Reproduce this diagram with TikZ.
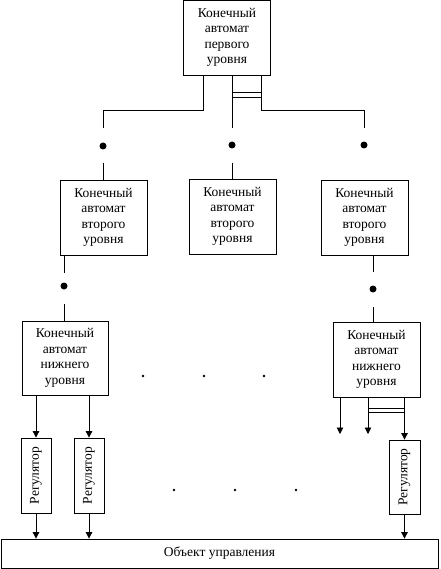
\documentclass[tikz,border=0pt]{standalone}
\usepackage{fontspec}
\setmainfont{Liberation Serif}
\usetikzlibrary{arrows.meta}

\tikzset{
  block/.style={draw, line width=0.8pt, align=center, inner sep=0pt,
    font=\fontsize{13.5}{15.5}\selectfont},
  automat/.style={block, minimum width=87pt, minimum height=75pt},
  regbox/.style={block, minimum width=30pt, minimum height=75pt},
  bigdot/.style={circle, fill, inner sep=0pt, minimum size=7pt},
  smalldot/.style={circle, fill, inner sep=0pt, minimum size=2.6pt},
  link/.style={line width=0.8pt}
}

\begin{document}
\begin{tikzpicture}[x=1pt, y=-1pt, >={Triangle[length=6.5pt,width=6.5pt]}]
  \useasboundingbox (0,0) rectangle (440,569);

  % first level
  \node[automat] (top) at (227,37.5) {Конечный\\автомат\\первого\\уровня};

  % second level
  \node[automat] (sec1) at (103.5,217.5) {Конечный\\автомат\\второго\\уровня};
  \node[automat] (sec2) at (232.5,216.5) {Конечный\\автомат\\второго\\уровня};
  \node[automat] (sec3) at (364.5,217.5) {Конечный\\автомат\\второго\\уровня};

  % lower level
  \node[automat, minimum width=86pt, minimum height=74pt] (low1) at (65,358) {Конечный\\автомат\\нижнего\\уровня};
  \node[automat] (low2) at (376.5,359.5) {Конечный\\автомат\\нижнего\\уровня};

  % regulators
  \node[regbox] (reg1) at (36,475.5) {\rotatebox{90}{Регулятор}};
  \node[regbox] (reg2) at (89,475.5) {\rotatebox{90}{Регулятор}};
  \node[regbox, minimum width=31pt, minimum height=74pt] (reg3) at (404.5,477) {\rotatebox{90}{Регулятор}};

  % controlled object
  \node[block, minimum width=437pt, minimum height=29pt] (obj) at (219.5,553.5) {Объект управления};

  % dots
  \node[bigdot] (d1) at (103,146) {};
  \node[bigdot] (d2) at (232,145) {};
  \node[bigdot] (d3) at (364,145) {};
  \node[bigdot] (d4) at (64,286) {};
  \node[bigdot] (d5) at (373,289) {};
  \foreach \x in {143,204,264}
    \node[smalldot] (m\x) at (\x,376) {};
  \foreach \x in {174,235,296}
    \node[smalldot] (n\x) at (\x,490) {};

  % top level links
  \draw[link] (top.south -| 203,0) -- (203,110) -| ([yshift=18pt]d1.center);
  \draw[link] (top.south -| d2) -- ([yshift=17pt]d2.center);
  \draw[link] (top.south -| 261,0) -- (261,110) -| ([yshift=17pt]d3.center);
  \draw[link] (232,92) -- (261,92);
  \draw[link] (232,97) -- (261,97);
  \draw[link] ([yshift=-17pt]d1.center) -- (sec1.north -| d1);
  \draw[link] ([yshift=-18pt]d2.center) -- (sec2.north -| d2);

  % second level links
  \draw[link] (sec1.south -| d4) -- ([yshift=13pt]d4.center);
  \draw[link] ([yshift=-18pt]d4.center) -- (low1.north -| d4);
  \draw[link] (sec3.south -| d5) -- ([yshift=17pt]d5.center);
  \draw[link] ([yshift=-18pt]d5.center) -- (low2.north -| d5);

  % lower level to regulators
  \coordinate (out1) at (340,434);
  \coordinate (out2) at (368,434);
  \draw[link,->] (low1.south -| reg1) -- (reg1.north);
  \draw[link,->] (low1.south -| reg2) -- (reg2.north);
  \draw[link,->] (low2.south -| out1) -- (out1);
  \draw[link,->] (low2.south -| out2) -- (out2);
  \draw[link,->] (low2.south -| reg3) -- (reg3.north);
  \draw[link] (368,408) -- (404.5,408);
  \draw[link] (368,412) -- (404.5,412);

  % regulators to object
  \draw[link,->] (reg1.south) -- (obj.north -| reg1);
  \draw[link,->] (reg2.south) -- (obj.north -| reg2);
  \draw[link,->] (reg3.south) -- (obj.north -| reg3);
\end{tikzpicture}
\end{document}
